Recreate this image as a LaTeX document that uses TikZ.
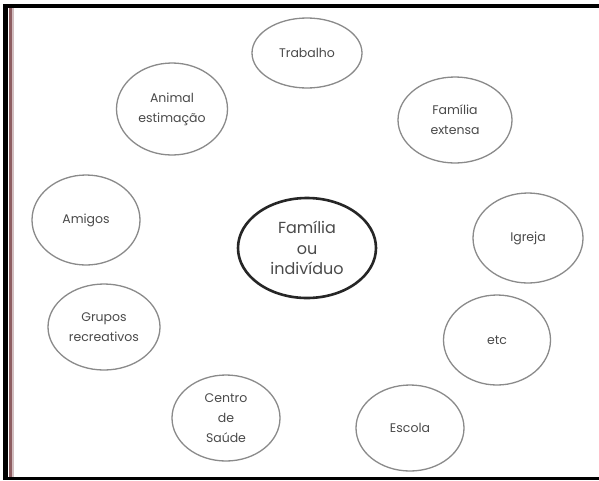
\documentclass[tikz,border=0pt]{standalone}
\usepackage{fontspec}
\setmainfont{Poppins}
\usetikzlibrary{shapes.geometric}
\definecolor{ringgray}{HTML}{8A8A8A}
\definecolor{labelgray}{HTML}{4A4A4A}
\definecolor{edgered}{HTML}{8E5E62}
\tikzset{
  ring/.style={ellipse, draw=ringgray, line width=1.3pt, inner sep=0pt,
    align=center, text=labelgray, font=\fontsize{12.5}{20}\selectfont},
  hub/.style={ellipse, draw=black!85, line width=2.6pt, inner sep=0pt,
    align=center, text=labelgray, font=\fontsize{16}{20.5}\selectfont},
}
\begin{document}
\begin{tikzpicture}[x=1pt, y=-1pt]
  \useasboundingbox (0,0) rectangle (599,480);
  \fill[white] (0,0) rectangle (599,480);
  % frame
  \fill[black] (3,4) rectangle (599,8);
  \fill[black] (3,4) rectangle (8,480);
  \fill[black] (3,477) rectangle (599,480);
  \fill[edgered] (9,8) rectangle (12,477);
  \fill[edgered!40] (12,8) rectangle (14,477);

  % centre
  \node[hub, minimum width=138pt, minimum height=100pt] (centre) at (307,248) {Família\\ou\\indivíduo};

  % surrounding systems
  \node[ring, minimum width=110pt, minimum height=70pt] (trabalho) at (307,53) {Trabalho};
  \node[ring, minimum width=114pt, minimum height=86pt] (extensa) at (455,120) {Família\\extensa};
  \node[ring, minimum width=110pt, minimum height=90pt] (igreja) at (528,238) {Igreja};
  \node[ring, minimum width=107pt, minimum height=90pt] (etc) at (497,340) {etc};
  \node[ring, minimum width=108pt, minimum height=86pt] (escola) at (410,428) {Escola};
  \node[ring, minimum width=108pt, minimum height=86pt] (saude) at (226,418) {Centro\\de\\Saúde};
  \node[ring, minimum width=112pt, minimum height=86pt] (grupos) at (104,327) {Grupos\\recreativos};
  \node[ring, minimum width=108pt, minimum height=90pt] (amigos) at (86,220) {Amigos};
  \node[ring, minimum width=111pt, minimum height=92pt] (animal) at (172,109) {Animal\\estimação};
\end{tikzpicture}
\end{document}
